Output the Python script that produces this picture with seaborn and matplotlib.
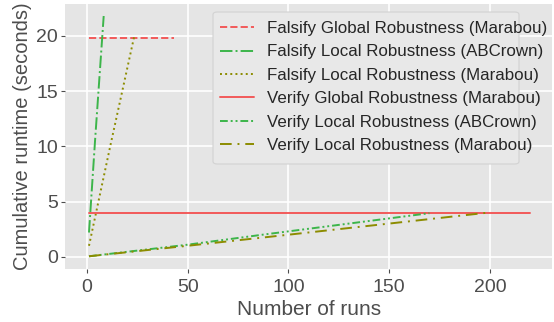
import pandas as pd
import seaborn as sns
import matplotlib.pyplot as plt
from matplotlib.patches import FancyBboxPatch

# data
labels = [
    "Falsify Global Robustness (Marabou)",
    "Falsify Local Robustness (ABCrown)",
    "Falsify Local Robustness (Marabou)",
    "Verify Global Robustness (Marabou)",
    "Verify Local Robustness (ABCrown)",
    "Verify Local Robustness (Marabou)",
]
fg_mar_x = [1, 43]
fg_mar_y = [19.8, 19.8]
fl_abc_x = [1, 4, 8.3]
fl_abc_y = [2.2, 10.5, 21.8]
fl_mar_x = [1, 12, 23.5]
fl_mar_y = [1.0, 10.4, 20.0]
vg_mar_x = [1, 220]
vg_mar_y = [4.0, 4.0]
vl_abc_x = [1, 50, 87, 170]
vl_abc_y = [0.05, 1.1, 2.0, 3.95]
vl_mar_x = [1, 50, 87, 199]
vl_mar_y = [0.05, 1.0, 1.74, 4.0]

xs = [fg_mar_x, fl_abc_x, fl_mar_x, vg_mar_x, vl_abc_x, vl_mar_x]
ys = [fg_mar_y, fl_abc_y, fl_mar_y, vg_mar_y, vl_abc_y, vl_mar_y]

colors = ["#f25a5a", "#3cb54a", "#8c8c00", "#f25a5a", "#3cb54a", "#8c8c00"]
styles = ["--", "-.", ":", "-", (0, (4, 1.5, 1, 1.5, 1, 1.5)), (0, (6, 3, 1, 3))]

sns.set_theme(style="darkgrid", rc={"axes.facecolor": "#e5e5e5"})
plt.rcParams["font.family"] = ["Liberation Sans", "DejaVu Sans"]

W, H = 554, 322
fig, ax = plt.subplots(figsize=(W / 100, H / 100), dpi=100)

for lab, x, y, c, ls in zip(labels, xs, ys, colors, styles):
    df = pd.DataFrame({"runs": x, "time": y})
    sns.lineplot(data=df, x="runs", y="time", ax=ax, color=c, linestyle=ls,
                 linewidth=1.4, label=lab)

ax.set_xlim(-11, 231)
ax.set_ylim(-1.09, 22.9)
ax.set_xticks([0, 50, 100, 150, 200])
ax.set_yticks([0, 5, 10, 15, 20])
ax.grid(color="white", linewidth=1.2)
ax.tick_params(axis="both", labelsize=14, labelcolor="#4d4d4d", color="#4d4d4d",
               length=3, width=0.8, bottom=True, left=True, pad=2)
ax.tick_params(axis="x", pad=4)
ax.set_xlabel("Number of runs", fontsize=15, color="#4d4d4d", labelpad=3)
ax.set_ylabel("Cumulative runtime (seconds)", fontsize=14.5, color="#4d4d4d", labelpad=3)
for s in ax.spines.values():
    s.set_visible(False)

# legend text runs past its frame in the reference, so the frame is drawn separately
leg = ax.legend(loc="upper left", fontsize=12.2, frameon=False, handlelength=2.0,
                labelspacing=0.5, borderpad=0, borderaxespad=0, handletextpad=0.8,
                bbox_to_anchor=(220 / W, 1 - 21 / H), bbox_transform=fig.transFigure)
leg.set_zorder(6)
frame = FancyBboxPatch((213 / W, 1 - 164 / H), 306 / W, 152 / H,
                       boxstyle="round,pad=0,rounding_size=0.008",
                       transform=fig.transFigure, facecolor="#e8e8e8",
                       edgecolor="#d2d2d2", linewidth=0.8, zorder=5)
ax.add_patch(frame)

plt.subplots_adjust(left=0.117, right=0.997, top=0.988, bottom=0.165)
plt.savefig("out.png", dpi=100)
